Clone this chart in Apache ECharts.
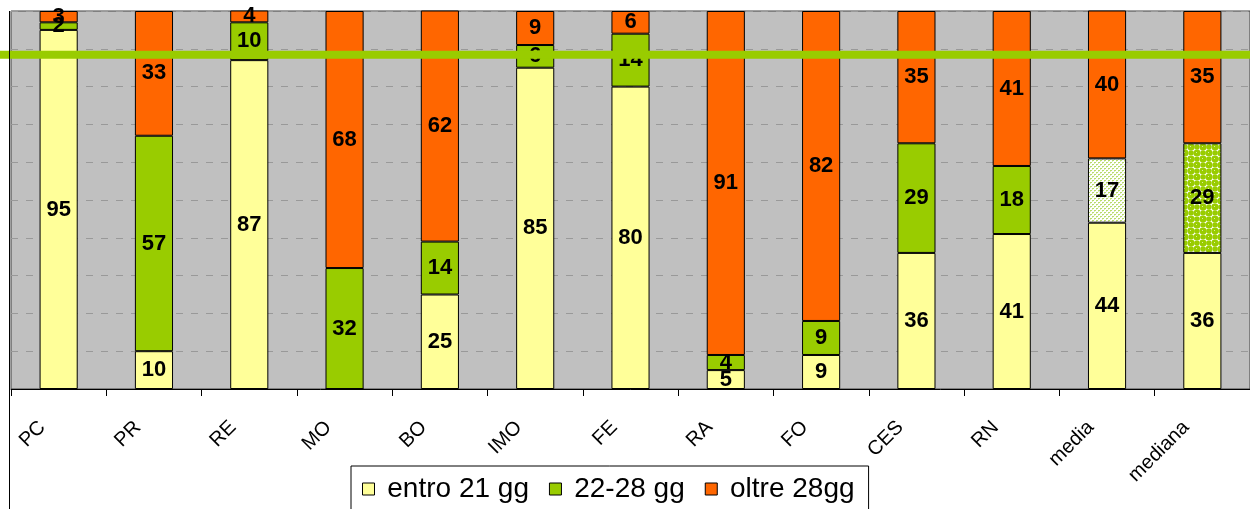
<!DOCTYPE html>
<html>
<head>
<meta charset="utf-8">
<script src="https://cdn.jsdelivr.net/npm/echarts@6/dist/echarts.min.js"></script>
<style>
html,body{margin:0;padding:0;background:#fff;}
#chart{width:1250px;height:509px;}
</style>
</head>
<body>
<div id="chart"></div>
<script>
const categories = ['PC','PR','RE','MO','BO','IMO','FE','RA','FO','CES','RN','media','mediana'];
const entro21 = [95,10,87,0,25,85,80,5,9,36,41,44,36];
const gg22_28 = [2,57,10,32,14,6,14,4,9,29,18,17,29];
const oltre28 = [3,33,4,68,62,9,6,91,82,35,41,40,35];
const seriesNames = ['entro 21 gg','22-28 gg','oltre 28gg'];
const targetLine = 88.4;

const YELLOW = '#FFFF99', GREEN = '#99CC00', ORANGE = '#FF6600';

function makePattern(kind){
  const c = document.createElement('canvas');
  if(kind === 'dots'){
    c.width = 4; c.height = 4;
    const g = c.getContext('2d');
    g.fillStyle = '#ffffff'; g.fillRect(0,0,4,4);
    g.fillStyle = '#b8dc6a';
    g.fillRect(0,0,2,1); g.fillRect(2,2,2,1);
    g.fillStyle = '#dcedb8';
    g.fillRect(0,1,1,1); g.fillRect(2,3,1,1);
  } else {
    c.width = 12; c.height = 12;
    const g = c.getContext('2d');
    g.fillStyle = '#ffffff'; g.fillRect(0,0,12,12);
    g.fillStyle = GREEN;
    [[3,3],[9,9],[9,3],[3,9]].forEach(function(p,i){
      g.beginPath(); g.arc(p[0],p[1], i<2?3.6:2.8, 0, Math.PI*2); g.fill();
    });
    g.fillStyle = '#d9efa0';
    g.fillRect(2,2,1,1); g.fillRect(8,8,1,1);
  }
  return {image: c, repeat: 'repeat'};
}

const labelStyle = {
  show: true, position: 'inside', color: '#000',
  fontFamily: 'Liberation Sans', fontWeight: 'bold', fontSize: 22,
  formatter: function(p){ return p.value ? String(p.value) : ''; }
};

function mkSeries(name, values, color, special){
  return {
    name: name, type: 'bar', stack: 'tot', barWidth: '40%',
    clip: true,
    itemStyle: {color: color, borderColor: '#000', borderWidth: 1},
    label: labelStyle,
    emphasis: {disabled: true},
    data: values.map(function(v, i){
      if(special && special[categories[i]]) {
        return {value: v, itemStyle: {color: special[categories[i]], borderColor:'#000', borderWidth:1}};
      }
      return v;
    })
  };
}

const chart = echarts.init(document.getElementById('chart'), null, {renderer: 'canvas'});
const option = {
  animation: false,
  backgroundColor: '#ffffff',
  textStyle: {fontFamily: 'Liberation Sans'},
  grid: {left: 11, right: 0, top: 11, bottom: 120, show: true,
         backgroundColor: '#C0C0C0', borderColor: '#404040', borderWidth: 1},
  legend: {
    left: 351, top: 466,
    padding: [9, 14, 12, 11],
    itemWidth: 12, itemHeight: 12, itemGap: 20,
    borderColor: '#000', borderWidth: 1, backgroundColor: '#fff',
    icon: 'rect',
    itemStyle: {borderColor: '#000', borderWidth: 1},
    formatter: function(n){ return ' ' + n; },
    textStyle: {fontFamily: 'Liberation Sans', fontSize: 28, color: '#000'},
    data: seriesNames
  },
  xAxis: {
    type: 'category', data: categories,
    axisLine: {lineStyle: {color: '#000', width: 1}},
    axisTick: {show: true, length: 7, lineStyle: {color: '#000'}},
    axisLabel: {rotate: 45, margin: 19, interval: 0, color: '#000',
                fontFamily: 'Liberation Sans', fontSize: 20, padding: [0, 23, 0, 0]},
    splitLine: {show: false}
  },
  yAxis: {
    type: 'value', min: 0, max: 100, interval: 10,
    axisLine: {show: false}, axisTick: {show: false}, axisLabel: {show: false},
    splitLine: {show: true, lineStyle: {color: '#999999', type: [7, 8], width: 1}}
  },
  series: [
    mkSeries(seriesNames[0], entro21, YELLOW),
    mkSeries(seriesNames[1], gg22_28, GREEN, {media: makePattern('dots'), mediana: makePattern('bubbles')}),
    mkSeries(seriesNames[2], oltre28, ORANGE)
  ]
};
chart.setOption(option);

const yLine = chart.convertToPixel({yAxisIndex: 0}, targetLine);
const yTop = chart.convertToPixel({yAxisIndex: 0}, 100);
chart.setOption({
  graphic: [
    {type: 'line', z: 100, silent: true,
     shape: {x1: 0, y1: yLine, x2: 1250, y2: yLine},
     style: {stroke: GREEN, lineWidth: 8}},
    {type: 'line', z: 100, silent: true,
     shape: {x1: 9.5, y1: yTop, x2: 9.5, y2: 509},
     style: {stroke: '#000', lineWidth: 1}}
  ]
});
</script>
</body>
</html>
